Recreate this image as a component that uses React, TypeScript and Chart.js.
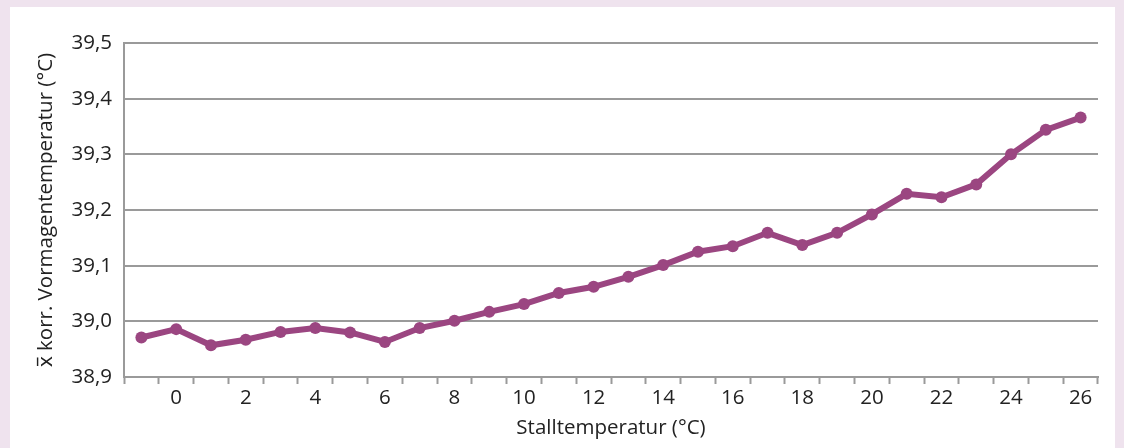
import React, { useEffect, useRef } from "react";
import { Chart, registerables } from "chart.js";

Chart.register(...registerables);

const categories: string[] = [
  "-1", "0", "1", "2", "3", "4", "5", "6", "7", "8", "9", "10", "11", "12",
  "13", "14", "15", "16", "17", "18", "19", "20", "21", "22", "23", "24", "25", "26",
];

const vormagenTemp: number[] = [
  38.971, 38.986, 38.957, 38.967, 38.981, 38.988, 38.980, 38.963, 38.988, 39.001,
  39.017, 39.031, 39.051, 39.062, 39.080, 39.101, 39.125, 39.135, 39.159, 39.137,
  39.159, 39.192, 39.229, 39.223, 39.246, 39.300, 39.344, 39.366,
];

const yTicks: number[] = [38.9, 39.0, 39.1, 39.2, 39.3, 39.4, 39.5];

const FONT = "'Open Sans', 'Noto Sans', sans-serif";
const FS = 20.5;
const GRID = "#9a9a9a";
const TEXT = "#222222";
const LINE = "#9b4681";

export default function App() {
  const ref = useRef<HTMLCanvasElement | null>(null);

  useEffect(() => {
    document.body.style.margin = "0";
    const ctx = ref.current!.getContext("2d")!;
    const chart = new Chart(ctx, {
      type: "line",
      data: {
        labels: categories,
        datasets: [
          {
            data: vormagenTemp,
            borderColor: LINE,
            backgroundColor: LINE,
            borderWidth: 6,
            pointRadius: 6,
            pointBackgroundColor: LINE,
            pointBorderWidth: 0,
            tension: 0,
          },
        ],
      },
      options: {
        animation: false,
        responsive: false,
        maintainAspectRatio: false,
        layout: { padding: { top: 43, right: 26, bottom: 0, left: 0 } },
        plugins: { legend: { display: false }, tooltip: { enabled: false } },
        scales: {
          x: {
            type: "category",
            offset: true,
            grid: {
              display: true,
              offset: true,
              drawOnChartArea: false,
              drawTicks: true,
              tickLength: 7,
              tickWidth: 2,
              tickColor: GRID,
            },
            border: { display: true, color: GRID, width: 2 },
            ticks: {
              autoSkip: false,
              maxRotation: 0,
              padding: 2,
              color: TEXT,
              font: { family: FONT, size: FS },
              callback: (_v: any, i: number) =>
                Number(categories[i]) % 2 === 0 ? categories[i] : "",
            },
            title: {
              display: true,
              text: "Stalltemperatur (°C)",
              color: TEXT,
              font: { family: FONT, size: FS },
              padding: { top: 0, bottom: 8 },
            },
            afterFit: (s: any) => {
              s.height = 71;
            },
          },
          y: {
            min: 38.9,
            max: 39.5,
            afterBuildTicks: (s: any) => {
              s.ticks = yTicks.map((v) => ({ value: v }));
            },
            grid: {
              display: true,
              drawTicks: false,
              tickLength: 0,
              color: GRID,
              lineWidth: 2,
            },
            border: { display: true, color: GRID, width: 2 },
            ticks: {
              padding: 12,
              color: TEXT,
              font: { family: FONT, size: FS },
              callback: (v: any) => Number(v).toFixed(1).replace(".", ","),
            },
            title: {
              display: true,
              text: "x̅ korr. Vormagentemperatur (°C)",
              color: TEXT,
              font: { family: FONT, size: FS },
              padding: { top: 34, bottom: 0 },
            },
            afterFit: (s: any) => {
              s.width = 124;
            },
          },
        },
      },
    });
    return () => chart.destroy();
  }, []);

  return (
    <div
      style={{
        position: "fixed",
        left: 0,
        top: 0,
        width: 1124,
        height: 448,
        background: "#efe3ee",
        overflow: "hidden",
      }}
    >
      <div
        style={{
          position: "absolute",
          left: 10,
          top: 7,
          width: 1105,
          height: 441,
          background: "#ffffff",
        }}
      />
      <canvas
        ref={ref}
        width={1124}
        height={448}
        style={{ position: "absolute", left: 0, top: 0, width: 1124, height: 448 }}
      />
    </div>
  );
}
